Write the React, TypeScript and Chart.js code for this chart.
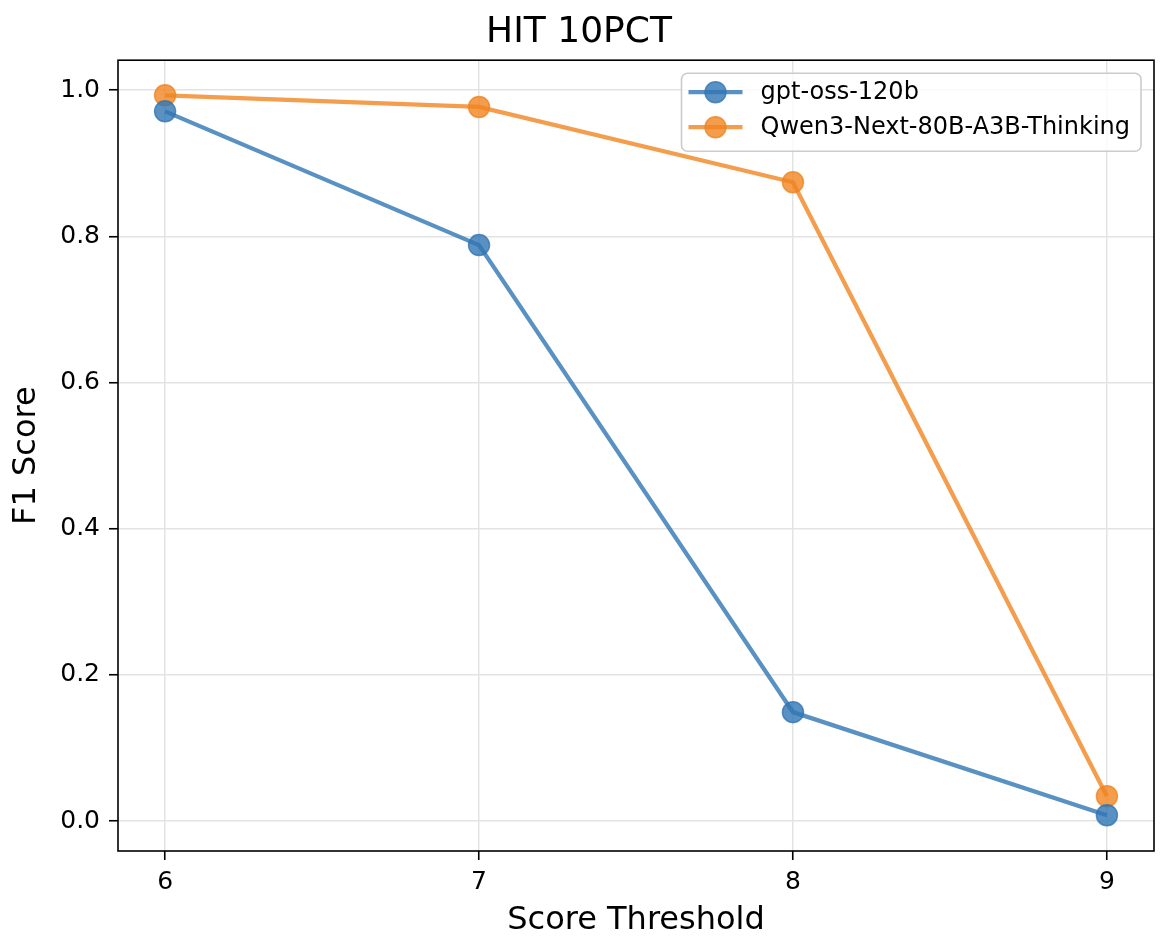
import React, { useEffect, useRef } from "react";
import { Chart, registerables } from "chart.js";

Chart.register(...registerables);

const thresholds = [6, 7, 8, 9];
const gptOss = [0.971, 0.788, 0.149, 0.008];
const qwen = [0.993, 0.977, 0.874, 0.034];
const seriesNames = ["gpt-oss-120b", "Qwen3-Next-80B-A3B-Thinking"];
const xTicks = [6, 7, 8, 9];
const yTicks = [0, 0.2, 0.4, 0.6, 0.8, 1.0];
const chartTitle = "HIT 10PCT";
const xLabel = "Score Threshold";
const yLabel = "F1 Score";

const BLUE = "rgba(49,117,180,0.8)";
const ORANGE = "rgba(240,132,32,0.8)";
const FONT = "'DejaVu Sans', sans-serif";

const framePlugin = {
  id: "mplFrame",
  afterDatasetsDraw(chart: any) {
    const { ctx, chartArea: a } = chart;
    ctx.save();
    ctx.strokeStyle = "#000";
    ctx.lineWidth = 1.6;
    ctx.strokeRect(a.left, a.top, a.right - a.left, a.bottom - a.top);
    ctx.restore();
  },
};

const legendPlugin = {
  id: "mplLegend",
  afterDraw(chart: any) {
    const { ctx, chartArea: a } = chart;
    const ds = chart.data.datasets;
    ctx.save();
    ctx.font = `24px ${FONT}`;
    const widths = ds.map((d: any) => ctx.measureText(d.label).width);
    const w = 79 + Math.max(...widths) + 11;
    const h = 78;
    const x = a.right - 13 - w;
    const y = a.top + 13;
    ctx.beginPath();
    (ctx as any).roundRect(x, y, w, h, 6);
    ctx.fillStyle = "rgba(255,255,255,0.8)";
    ctx.fill();
    ctx.strokeStyle = "#cccccc";
    ctx.lineWidth = 1.6;
    ctx.stroke();
    ds.forEach((d: any, i: number) => {
      const cy = y + 19 + i * 35;
      ctx.beginPath();
      ctx.moveTo(x + 7, cy);
      ctx.lineTo(x + 61, cy);
      ctx.strokeStyle = d.borderColor;
      ctx.lineWidth = 4.3;
      ctx.stroke();
      ctx.beginPath();
      ctx.arc(x + 34, cy, 10.5, 0, Math.PI * 2);
      ctx.fillStyle = d.pointBackgroundColor;
      ctx.fill();
      ctx.lineWidth = 1.5;
      ctx.strokeStyle = d.pointBorderColor;
      ctx.stroke();
      ctx.fillStyle = "#000";
      ctx.textBaseline = "middle";
      ctx.textAlign = "left";
      ctx.fillText(d.label, x + 79, cy + 1);
    });
    ctx.restore();
  },
};

export default function App() {
  const ref = useRef<HTMLCanvasElement | null>(null);

  useEffect(() => {
    if (!ref.current) return;
    const mk = (label: string, vals: number[], color: string) => ({
      label,
      data: thresholds.map((t, i) => ({ x: t, y: vals[i] })),
      borderColor: color,
      backgroundColor: color,
      pointBackgroundColor: color,
      pointBorderColor: color,
      borderWidth: 4.3,
      pointRadius: 10.5,
      pointBorderWidth: 1.5,
      pointHoverRadius: 10.5,
      tension: 0,
      fill: false,
    });
    const gridCommon = {
      color: "#e3e3e3",
      lineWidth: 1.5,
      tickColor: "#000",
      tickLength: 9,
      tickWidth: 1.6,
      drawTicks: true,
    };
    const chart = new Chart(ref.current, {
      type: "line",
      data: {
        datasets: [mk(seriesNames[0], gptOss, BLUE), mk(seriesNames[1], qwen, ORANGE)],
      },
      options: {
        animation: false,
        responsive: false,
        devicePixelRatio: 1,
        layout: { padding: { top: 1, right: 8, bottom: 0, left: 0 } },
        plugins: {
          legend: { display: false },
          tooltip: { enabled: false },
          title: {
            display: true,
            text: chartTitle,
            color: "#000",
            font: { family: FONT, size: 36, weight: "normal" },
            padding: { top: 10, bottom: 6 },
          },
        },
        scales: {
          x: {
            type: "linear",
            min: 5.85,
            max: 9.15,
            afterBuildTicks: (s: any) => {
              s.ticks = xTicks.map((v) => ({ value: v }));
            },
            afterFit: (s: any) => {
              s.height = 97;
            },
            ticks: {
              color: "#000",
              font: { family: FONT, size: 25 },
              padding: 7,
              maxRotation: 0,
              callback: (v: any) => String(v),
            },
            grid: gridCommon as any,
            border: { display: false },
            title: {
              display: true,
              text: xLabel,
              color: "#000",
              font: { family: FONT, size: 32 },
              padding: { top: 0, bottom: 8 },
            },
          },
          y: {
            type: "linear",
            min: -0.041,
            max: 1.041,
            afterBuildTicks: (s: any) => {
              s.ticks = yTicks.map((v) => ({ value: v }));
            },
            afterFit: (s: any) => {
              s.width = 118;
            },
            ticks: {
              color: "#000",
              font: { family: FONT, size: 25 },
              padding: 9,
              callback: (v: any) => Number(v).toFixed(1),
            },
            grid: gridCommon as any,
            border: { display: false },
            title: {
              display: true,
              text: yLabel,
              color: "#000",
              font: { family: FONT, size: 32 },
              padding: { top: 7, bottom: 0 },
            },
          },
        },
      } as any,
      plugins: [framePlugin, legendPlugin],
    });
    return () => chart.destroy();
  }, []);

  return (
    <div style={{ position: "absolute", left: 0, top: 0, width: 1166, height: 948, background: "#fff" }}>
      <canvas ref={ref} width={1166} height={948} style={{ display: "block" }} />
    </div>
  );
}
